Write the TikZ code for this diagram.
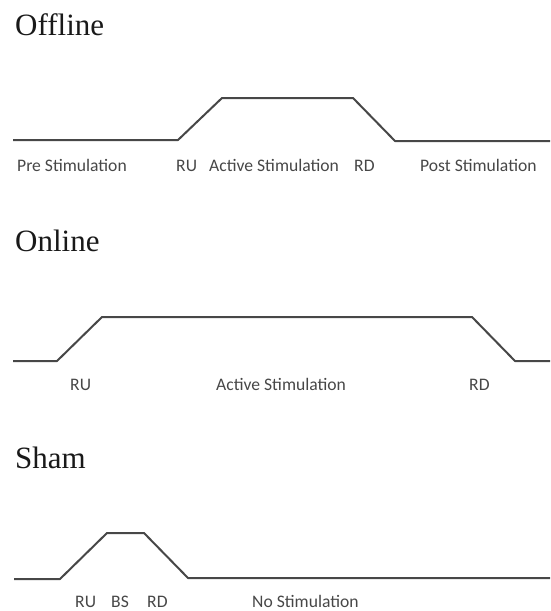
\documentclass[tikz,border=0pt]{standalone}
\usepackage{fontspec}
\setmainfont{Liberation Serif}
\newfontfamily\lblfont{Carlito}
\usetikzlibrary{positioning}

\begin{document}
\begin{tikzpicture}[
  x=1pt, y=-1pt,
  title/.style={anchor=base west, inner sep=0pt,
                font=\fontsize{31}{33}\selectfont, text=black!90},
  lbl/.style={anchor=base west, inner sep=0pt,
              font=\lblfont\fontsize{17.6}{19}\selectfont, text=black!72},
  wave/.style={draw=black!72, line width=2pt, line join=round}
]
  \useasboundingbox (0,0) rectangle (550,611);

  % - Offline -
  \node[title] (toff) at (15,35) {Offline};
  \draw[wave] (13,140) -- (178,140) -- (222,98) -- (353,98) -- (395,141) -- (550,141);
  \node[lbl] (offpre)  at (17,171)  {Pre Stimulation};
  \node[lbl] (offru)   at (176,171) {RU};
  \node[lbl] (offact)  at (209,171) {Active Stimulation};
  \node[lbl] (offrd)   at (354,171) {RD};
  \node[lbl] (offpost) at (420,171) {Post Stimulation};

  % - Online -
  \node[title] (ton) at (15,251) {Online};
  \draw[wave] (13,361) -- (57,361) -- (102,317) -- (472,317) -- (515,361) -- (550,361);
  \node[lbl] (onru)  at (70,390)  {RU};
  \node[lbl] (onact) at (216,390) {Active Stimulation};
  \node[lbl] (onrd)  at (469,390) {RD};

  % - Sham -
  \node[title] (tsham) at (15,468) {Sham};
  \draw[wave] (14,579) -- (60,579) -- (107,533) -- (144,533) -- (188,578) -- (550,578);
  \node[lbl] (shru) at (75,607)  {RU};
  \node[lbl] (shbs) at (111,607) {BS};
  \node[lbl] (shrd) at (147,607) {RD};
  \node[lbl] (shno) at (252,607) {No Stimulation};
\end{tikzpicture}
\end{document}
